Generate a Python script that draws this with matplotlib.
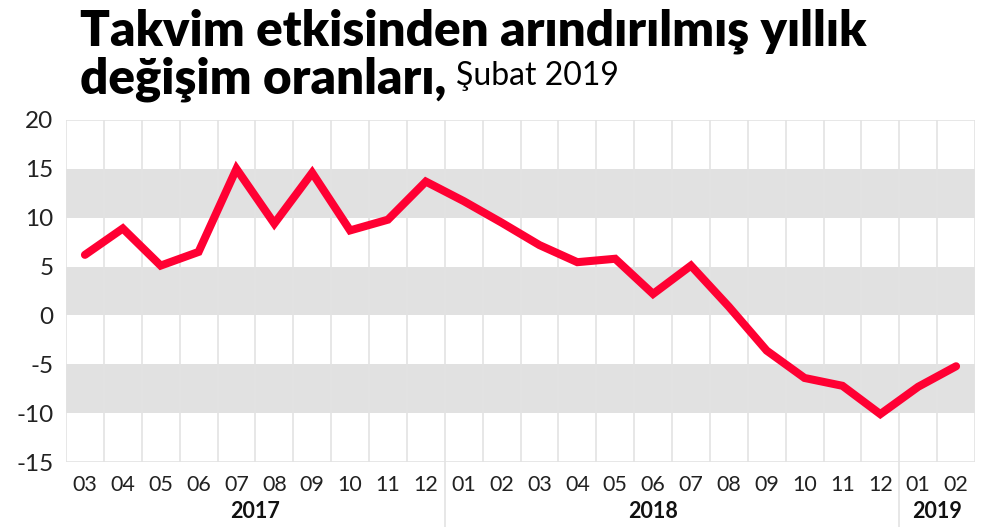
import matplotlib.pyplot as plt
from matplotlib.transforms import blended_transform_factory

# monthly labels, Mar 2017 - Feb 2019
months = ["03", "04", "05", "06", "07", "08", "09", "10", "11", "12",
          "01", "02", "03", "04", "05", "06", "07", "08", "09", "10", "11", "12",
          "01", "02"]
values = [6.2, 8.9, 5.1, 6.5, 15.0, 9.4, 14.6, 8.7, 9.8, 13.7,
          11.7, 9.5, 7.2, 5.45, 5.8, 2.2, 5.1, 0.9, -3.6, -6.4, -7.2, -10.1,
          -7.3, -5.2]
years = ["2017", "2018", "2019"]
year_pos = [4.5, 15.0, 22.5]
year_breaks = [9.5, 21.5]
y_ticks = [20, 15, 10, 5, 0, -5, -10, -15]
bands = [(10, 15), (0, 5), (-10, -5)]

plt.rcParams["font.family"] = ["Lato", "DejaVu Sans"]

fig = plt.figure(figsize=(10, 5.27), dpi=100)
ax = fig.add_axes([0.066, 0.1233, 0.909, 0.649])

x = list(range(len(months)))

# grey bands
for lo, hi in bands:
    ax.axhspan(lo, hi, color="#e1e1e1", lw=0, zorder=0)

# vertical grid lines between months
for k in range(len(months) + 1):
    ax.axvline(k - 0.5, color="#e3e3e3", lw=1.2, zorder=1)
ax.axhline(20, color="#e3e3e3", lw=1.2, zorder=1)
ax.axhline(-15, color="#e3e3e3", lw=1.2, zorder=1)

ax.plot(x, values, color="#ff0033", lw=5.8, solid_joinstyle="miter",
        solid_capstyle="round", zorder=3)

ax.set_xlim(-0.5, len(months) - 0.5)
ax.set_ylim(-15, 20)
ax.set_yticks(y_ticks)
ax.set_yticklabels([str(v) for v in y_ticks], fontsize=17.5, color="#222222")
ax.set_xticks(x)
ax.set_xticklabels(months, fontsize=15.5, color="#222222")
ax.tick_params(length=0, axis="y", pad=9)
ax.tick_params(length=0, axis="x", pad=9)
for s in ax.spines.values():
    s.set_visible(False)

# year labels and separators below the axis
trans = blended_transform_factory(ax.transData, ax.transAxes)
for pos, yr in zip(year_pos, years):
    ax.text(pos, -0.145, yr, transform=trans, ha="center", va="center",
            fontsize=15.5, fontweight="bold", color="#111111")
for b in year_breaks:
    ax.plot([b, b], [0, -0.2], transform=trans, color="#e3e3e3", lw=1.2,
            clip_on=False)

# title
fig.text(0.08, 0.94, "Takvim etkisinden arındırılmış yıllık",
         fontsize=35.5, fontweight="heavy", color="black", va="center")
t2 = fig.text(0.08, 0.85, "değişim oranları,", fontsize=35.5,
              fontweight="heavy", color="black", va="center")
fig.canvas.draw()
bb = t2.get_window_extent()
fig.text(bb.x1 / 1000 + 0.01, 0.856, "Şubat 2019", fontsize=23,
         color="black", va="center")

fig.savefig("out.png", dpi=100)
